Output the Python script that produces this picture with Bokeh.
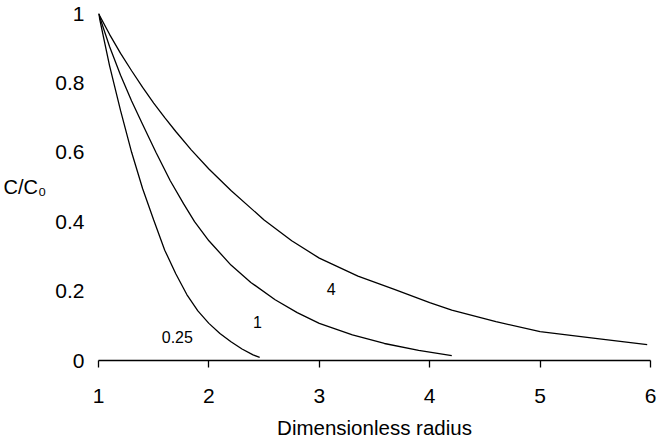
from bokeh.plotting import figure
from bokeh.models import FixedTicker, Label
from bokeh.embed import file_html
from bokeh.resources import INLINE

# Concentration profiles C/C0 versus dimensionless radius for three parameter values
r_025 = [1.0, 1.1, 1.2, 1.3, 1.4, 1.5, 1.6, 1.7, 1.8, 1.9, 2.0, 2.1, 2.2, 2.3, 2.4, 2.46]
c_025 = [1.0, 0.85, 0.72, 0.60, 0.495, 0.405, 0.318, 0.25, 0.19, 0.143, 0.107, 0.078, 0.054, 0.033, 0.016, 0.009]

r_1 = [1.0, 1.1, 1.2, 1.3, 1.4, 1.52, 1.65, 1.77, 1.87, 2.0, 2.2, 2.38, 2.6, 2.8, 3.0, 3.3, 3.59, 3.9, 4.2]
c_1 = [1.0, 0.905, 0.822, 0.748, 0.68, 0.60, 0.518, 0.452, 0.40, 0.345, 0.275, 0.225, 0.175, 0.138, 0.107, 0.074, 0.049, 0.029, 0.014]

r_4 = [1.0, 1.1, 1.2, 1.3, 1.4, 1.5, 1.6, 1.7, 1.84, 2.0, 2.2, 2.5, 2.75, 3.0, 3.35, 3.68, 4.0, 4.2, 4.6, 5.0, 5.5, 5.97]
c_4 = [1.0, 0.94, 0.885, 0.835, 0.787, 0.742, 0.70, 0.66, 0.607, 0.552, 0.49, 0.405, 0.345, 0.295, 0.243, 0.205, 0.167, 0.145, 0.112, 0.083, 0.064, 0.046]

curve_names = ["0.25", "1", "4"]
curve_label_pos = [(1.714, 0.069), (2.44, 0.11), (3.107, 0.205)]

x_ticks = [1, 2, 3, 4, 5, 6]
y_ticks = [0, 0.2, 0.4, 0.6, 0.8, 1.0]
y_tick_labels = ["0", "0.2", "0.4", "0.6", "0.8", "1"]

FONT = "Liberation Sans"

p = figure(width=657, height=441, x_range=(1, 6), y_range=(0, 1),
           output_backend="svg", toolbar_location=None,
           min_border_left=97, min_border_right=7, min_border_top=13, min_border_bottom=81)
p.outline_line_color = None
p.grid.visible = False
p.background_fill_color = "white"
p.border_fill_color = "white"

for xs, ys in [(r_025, c_025), (r_1, c_1), (r_4, c_4)]:
    p.line(xs, ys, line_color="black", line_width=1.3)

# x axis: line with outward ticks
xa = p.xaxis[0]
xa.ticker = FixedTicker(ticks=x_ticks)
xa.minor_tick_line_color = None
xa.major_tick_in = 0
xa.major_tick_out = 7
xa.major_tick_line_width = 1.3
xa.axis_line_width = 1.6
xa.major_label_text_font = FONT
xa.major_label_text_font_size = "21px"
xa.major_label_text_color = "black"
xa.major_label_standoff = 21
xa.axis_label = "Dimensionless radius"
xa.axis_label_text_font = FONT
xa.axis_label_text_font_size = "20.5px"
xa.axis_label_text_font_style = "normal"
xa.axis_label_text_color = "black"
xa.axis_label_standoff = 10

# y axis: labels only, horizontal title
ya = p.yaxis[0]
ya.ticker = FixedTicker(ticks=y_ticks)
ya.major_label_overrides = {t: s for t, s in zip(y_ticks, y_tick_labels)}
ya.axis_line_color = None
ya.major_tick_line_color = None
ya.minor_tick_line_color = None
ya.major_tick_in = 0
ya.major_tick_out = 0
ya.major_label_text_font = FONT
ya.major_label_text_font_size = "21px"
ya.major_label_text_color = "black"
ya.major_label_standoff = 14
ya.axis_label = "C/C\u2080"
ya.axis_label_orientation = "horizontal"
ya.axis_label_text_font = FONT
ya.axis_label_text_font_size = "20px"
ya.axis_label_text_font_style = "normal"
ya.axis_label_text_color = "black"
ya.axis_label_standoff = 6

# curve labels
for name, (lx, ly) in zip(curve_names, curve_label_pos):
    p.add_layout(Label(x=lx, y=ly, text=name, text_font=FONT, text_font_size="16px",
                       text_color="black", text_baseline="middle", text_align="center"))

open("out.html", "w").write(file_html(p, INLINE))
